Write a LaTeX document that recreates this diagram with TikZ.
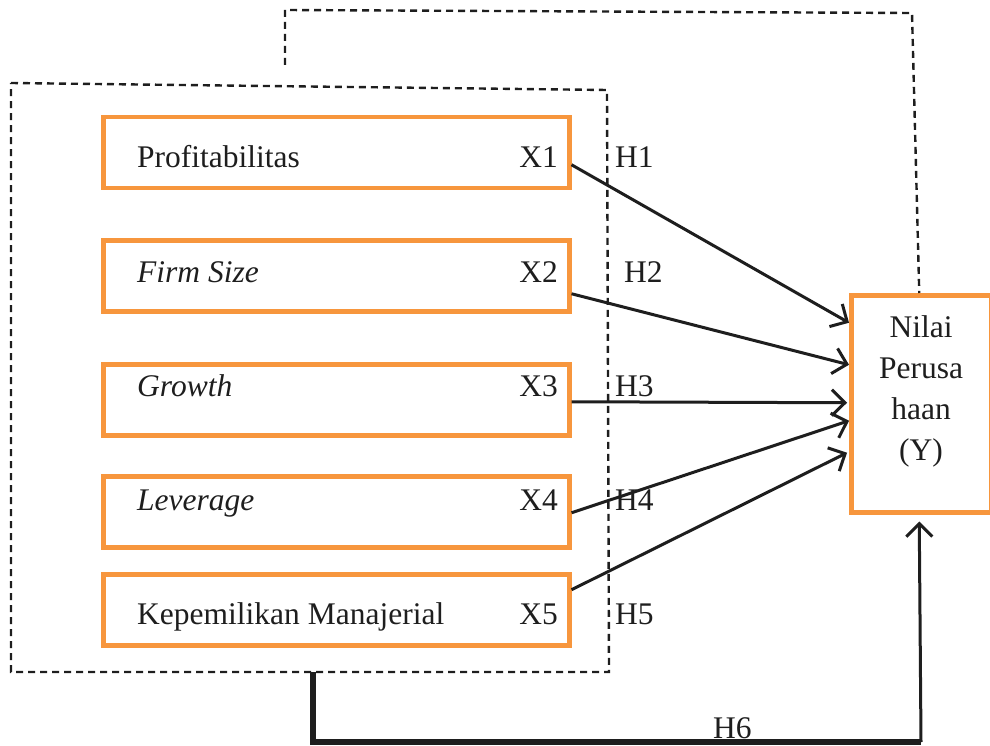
\documentclass[tikz,border=0pt]{standalone}
\usepackage{fontspec}
\setmainfont{Liberation Serif}[
  UprightFont = * ,
  ItalicFont = * Italic ,
  BoldFont = * Bold ]
\usetikzlibrary{arrows.meta,calc}
\definecolor{boxorange}{RGB}{247,150,61}
\definecolor{ink}{RGB}{30,30,30}
\tikzset{
  varbox/.style={draw=boxorange, line width=4.5pt, minimum width=466pt, minimum height=71pt, inner sep=0pt, anchor=north west},
  lbl/.style={font=\fontsize{31.5}{36}\selectfont, text=ink, inner sep=0pt},
  grp/.style={draw=ink, line width=2.4pt, dash pattern=on 7pt off 5pt},
  link/.style={draw=ink, line width=3pt, -{Straight Barb[length=13pt,width=26pt,line width=3pt]}},
  thickline/.style={draw=ink, line width=6.5pt}
}
\begin{document}
\begin{tikzpicture}[x=1pt,y=-1pt]
\useasboundingbox (0,0) rectangle (990,746);

% dashed group around the independent variables
\draw[grp] (11,83) -- (607,90) -- (609,672) -- (11,672) -- cycle;

% independent variable boxes
\node[varbox] (x1) at (101,115) {};
\node[varbox] (x2) at (101,238) {};
\node[varbox] (x3) at (101,362) {};
\node[varbox] (x4) at (101,474) {};
\node[varbox] (x5) at (101,572) {};

\node[lbl, anchor=base west] (t1) at (137,168) {Profitabilitas};
\node[lbl, anchor=base west] (t2) at (137,282) {\itshape Firm Size};
\node[lbl, anchor=base west] (t3) at (137,396) {\itshape Growth};
\node[lbl, anchor=base west] (t4) at (137,510) {\itshape Leverage};
\node[lbl, anchor=base west] (t5) at (137,624) {Kepemilikan Manajerial};

\node[lbl, anchor=base east] (n1) at (558,168) {X1};
\node[lbl, anchor=base east] (n2) at (558,282) {X2};
\node[lbl, anchor=base east] (n3) at (558,396) {X3};
\node[lbl, anchor=base east] (n4) at (558,510) {X4};
\node[lbl, anchor=base east] (n5) at (558,624) {X5};

% dependent variable
\node[draw=boxorange, line width=4.5pt, minimum width=140pt, minimum height=217pt, inner sep=0pt, anchor=north west] (y) at (849,293) {};
\node[lbl, anchor=base] (y1) at (921,337) {Nilai};
\node[lbl, anchor=base] (y2) at (921,378) {Perusa};
\node[lbl, anchor=base] (y3) at (921,419) {haan};
\node[lbl, anchor=base] (y4) at (921,460) {(Y)};

% hypothesis labels
\node[lbl, anchor=base west] (h1) at (615,168) {H1};
\node[lbl, anchor=base west] (h2) at (624,282) {H2};
\node[lbl, anchor=base west] (h3) at (615,396) {H3};
\node[lbl, anchor=base west] (h4) at (615,510) {H4};
\node[lbl, anchor=base west] (h5) at (615,624) {H5};
\node[lbl, anchor=base west] (h6) at (713,738) {H6};

% partial effects
\draw[link] ([yshift=-12pt]x1.east) -- ([yshift=81pt]y.west);
\draw[link] ([yshift=-18pt]x2.east) -- ([yshift=39pt]y.west);
\draw[link] ([yshift=-2pt]x3.east) -- ([xshift=-2pt,yshift=1pt]y.west);
\draw[link] ([yshift=-1pt]x4.east) -- ([yshift=-17pt]y.west);
\draw[link] ([yshift=20pt]x5.east) -- ([xshift=-2pt,yshift=-49pt]y.west);

% simultaneous effect (H6)
\coordinate (gtop) at (285,65);
\draw[grp] (gtop) -- (285,10) -- (912,13) -- ([xshift=-2pt]y.north);
\coordinate (gb) at (313,672);
\coordinate (corner) at (921,742);
\draw[thickline] (gb) -- (313,742) -- (corner);
\draw[link] (corner) -- ([xshift=-2pt,yshift=-7pt]y.south);
\end{tikzpicture}
\end{document}
